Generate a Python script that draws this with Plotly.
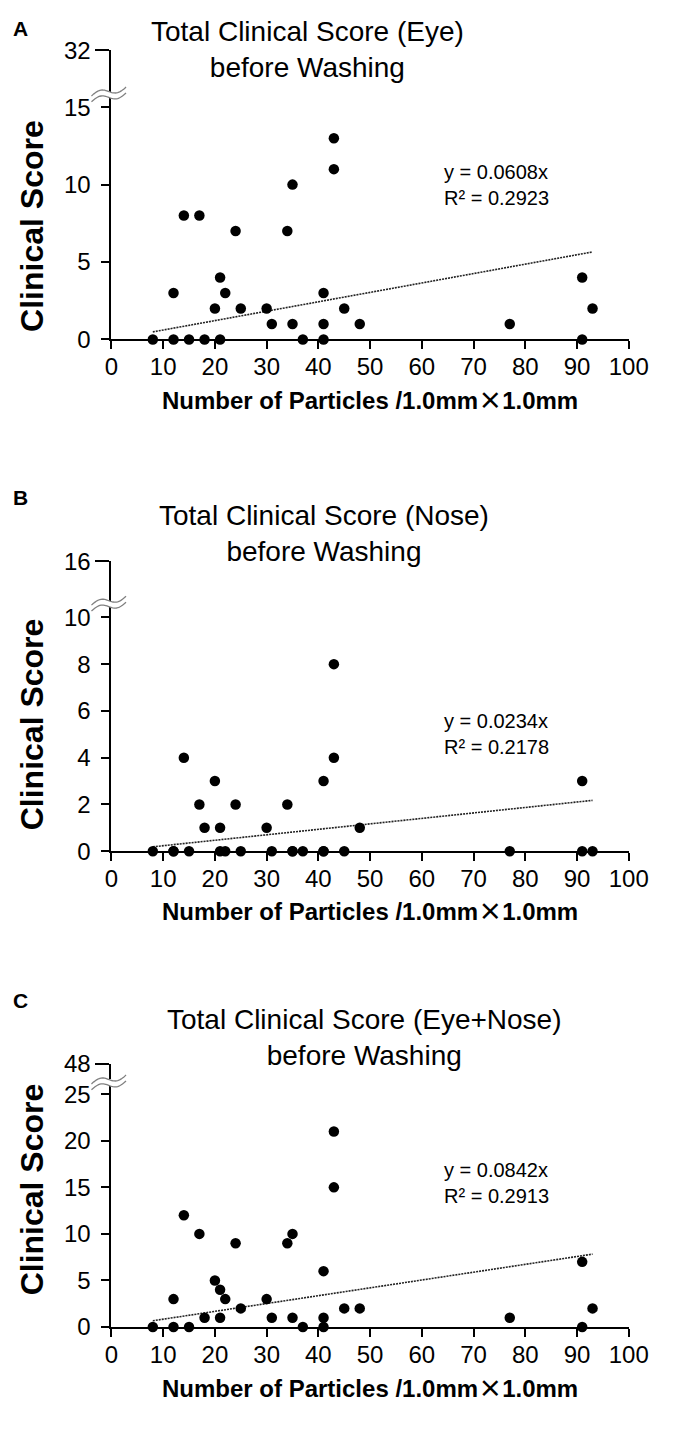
import numpy as np
import plotly.graph_objects as go

# ---------------- data ----------------
particles = [8, 12, 12, 14, 15, 17, 18, 20, 21, 21, 22, 24, 25, 30, 31, 34, 35, 35, 37,
             41, 41, 41, 43, 43, 45, 48, 77, 91, 91, 93]
eye_score = [0, 0, 3, 8, 0, 8, 0, 2, 0, 4, 3, 7, 2, 2, 1, 7, 10, 1, 0,
             3, 1, 0, 13, 11, 2, 1, 1, 4, 0, 2]
nose_score = [0, 0, 0, 4, 0, 2, 1, 3, 1, 0, 0, 2, 0, 1, 0, 2, 0, 0, 0,
              3, 0, 0, 8, 4, 0, 1, 0, 3, 0, 0]
total_score = [0, 0, 3, 12, 0, 10, 1, 5, 1, 4, 3, 9, 2, 3, 1, 9, 10, 1, 0,
               6, 1, 0, 21, 15, 2, 2, 1, 7, 0, 2]

panel_letters = ["A", "B", "C"]
panel_titles = ["Total Clinical Score (Eye)<br>before Washing",
                "Total Clinical Score (Nose)<br>before Washing",
                "Total Clinical Score (Eye+Nose)<br>before Washing"]
r2_labels = ["0.2923", "0.2178", "0.2913"]
lower_ticks = [[0, 5, 10, 15], [0, 2, 4, 6, 8, 10], [0, 5, 10, 15, 20, 25]]
upper_ticks = [[32], [16], [48]]
x_ticks = [0, 10, 20, 30, 40, 50, 60, 70, 80, 90, 100]
x_title = ('Number of Particles /1.0mm'
           '<span style="font-family:Noto Sans CJK JP">×</span>1.0mm')
y_title = "Clinical Score"
series = [eye_score, nose_score, total_score]

# ---------------- layout geometry (pixels) ----------------
W, H = 674, 1430
FONT = "Arial, Liberation Sans, sans-serif"
x_left, x_right = 108.8, 647.7
geo = [
    dict(y0=331.7, yt=95.0, vt=15, yu=37.0, brk=82.0, let=15, tit=36.5, tx=313,
         eq=174, xt=392, yt_c=216),
    dict(y0=853.3, yt=615.0, vt=10, yu=558.0, brk=601.0, let=493, tit=529, tx=330,
         eq=734, xt=913, yt_c=724),
    dict(y0=1338.3, yt=1101.0, vt=25, yu=1070.0, brk=1089.0, let=1005, tit=1043, tx=372,
         eq=1192, xt=1399, yt_c=1198),
]


def pxx(x):
    return x / W


def pyy(y):
    return 1 - y / H


fig = go.Figure()
layout = dict(width=W, height=H, margin=dict(l=0, r=0, t=0, b=0),
              paper_bgcolor="white", plot_bgcolor="white", showlegend=False,
              font=dict(family=FONT, color="black"))
shapes = []
annotations = []

for i in range(3):
    g = geo[i]
    xa = "x" if i == 0 else f"x{i+1}"
    ylo_n = 2 * i + 1
    yhi_n = 2 * i + 2
    ylo = "y" if ylo_n == 1 else f"y{ylo_n}"
    yhi = f"y{yhi_n}"
    ppu = (g["y0"] - g["yt"]) / g["vt"]
    lo_top_px = g["brk"] + 3
    lo_max = (g["y0"] - lo_top_px) / ppu
    hi_bot_px = g["brk"] - 3

    ys = series[i]
    slope = float(np.dot(particles, ys) / np.dot(particles, particles))
    xmin, xmax = min(particles), max(particles)

    fig.add_trace(go.Scatter(x=[xmin, xmax], y=[slope * xmin, slope * xmax],
                             mode="lines", xaxis=xa, yaxis=ylo,
                             line=dict(color="#222", width=1.6, dash="2px,1px"),
                             hoverinfo="skip"))
    fig.add_trace(go.Scatter(x=particles, y=ys, mode="markers", xaxis=xa, yaxis=ylo,
                             marker=dict(size=10.5, color="black"), cliponaxis=False))
    fig.add_trace(go.Scatter(x=[None], y=[None], xaxis=xa, yaxis=yhi, mode="markers",
                             hoverinfo="skip"))

    axline = dict(showline=True, linecolor="black", linewidth=2, ticks="outside",
                  tickcolor="black", tickwidth=2, showgrid=False, zeroline=False,
                  tickfont=dict(family=FONT, size=24, color="black"))
    layout["xaxis" if i == 0 else f"xaxis{i+1}"] = dict(
        axline, domain=[pxx(x_left), pxx(x_right)], range=[0, 100], anchor=ylo,
        tickvals=x_ticks, ticklen=8, ticklabelstandoff=-3)
    layout["yaxis" if ylo_n == 1 else f"yaxis{ylo_n}"] = dict(
        axline, domain=[pyy(g["y0"]), pyy(lo_top_px)], range=[0, lo_max], anchor=xa,
        tickvals=lower_ticks[i], ticklen=8, ticklabelstandoff=6)
    vu = upper_ticks[i][0]
    layout[f"yaxis{yhi_n}"] = dict(
        axline, domain=[pyy(hi_bot_px), pyy(g["yu"])], range=[vu - 4, vu], anchor=xa,
        tickvals=upper_ticks[i], ticklen=14, ticklabelstandoff=0)

    # axis break symbol
    cx, cy = 106.0, g["brk"]
    t = np.linspace(0, 1, 30)
    X = cx - 18 + 36 * t
    Yc = cy - (t - 0.5) * 9 - 3.5 * np.sin(2 * np.pi * t)
    up = [(pxx(a), pyy(b - 3)) for a, b in zip(X, Yc)]
    dn = [(pxx(a), pyy(b + 3)) for a, b in zip(X, Yc)]
    poly = "M " + " L ".join(f"{a:.5f},{b:.5f}" for a, b in up + dn[::-1]) + " Z"
    shapes.append(dict(type="path", xref="paper", yref="paper", path=poly,
                       fillcolor="white", line=dict(width=0), layer="above"))
    for curve in (up, dn):
        pth = "M " + " L ".join(f"{a:.5f},{b:.5f}" for a, b in curve)
        shapes.append(dict(type="path", xref="paper", yref="paper", path=pth,
                           line=dict(color="#808080", width=1.3), layer="above"))

    # texts
    annotations.append(dict(text=f"<b>{panel_letters[i]}</b>", x=pxx(4), y=pyy(g["let"]),
                            xref="paper", yref="paper", xanchor="left", yanchor="middle",
                            showarrow=False, font=dict(size=21, family=FONT)))
    annotations.append(dict(text=panel_titles[i], x=pxx(g["tx"]), y=pyy(g["tit"]),
                            xref="paper", yref="paper", xanchor="center", yanchor="middle",
                            align="center", showarrow=False,
                            font=dict(size=28, family=FONT)))
    annotations.append(dict(text=f"<b>{y_title}</b>", x=pxx(26), y=pyy(g["yt_c"]),
                            xref="paper", yref="paper", xanchor="center", yanchor="middle",
                            textangle=-90, showarrow=False,
                            font=dict(size=32, family=FONT)))
    annotations.append(dict(text=f"<b>{x_title}</b>", x=pxx((x_left + x_right) / 2),
                            y=pyy(g["xt"]), xref="paper", yref="paper",
                            xanchor="center", yanchor="middle", showarrow=False,
                            font=dict(size=24, family=FONT)))
    annotations.append(dict(text=f"y = {slope:.4f}x<br>R² = {r2_labels[i]}",
                            x=pxx(453), y=pyy(g["eq"]), xref="paper", yref="paper",
                            xanchor="left", yanchor="middle", align="left",
                            showarrow=False, font=dict(size=20, family=FONT)))

layout["shapes"] = shapes
layout["annotations"] = annotations
fig.update_layout(**layout)
fig.write_html("out.html")
